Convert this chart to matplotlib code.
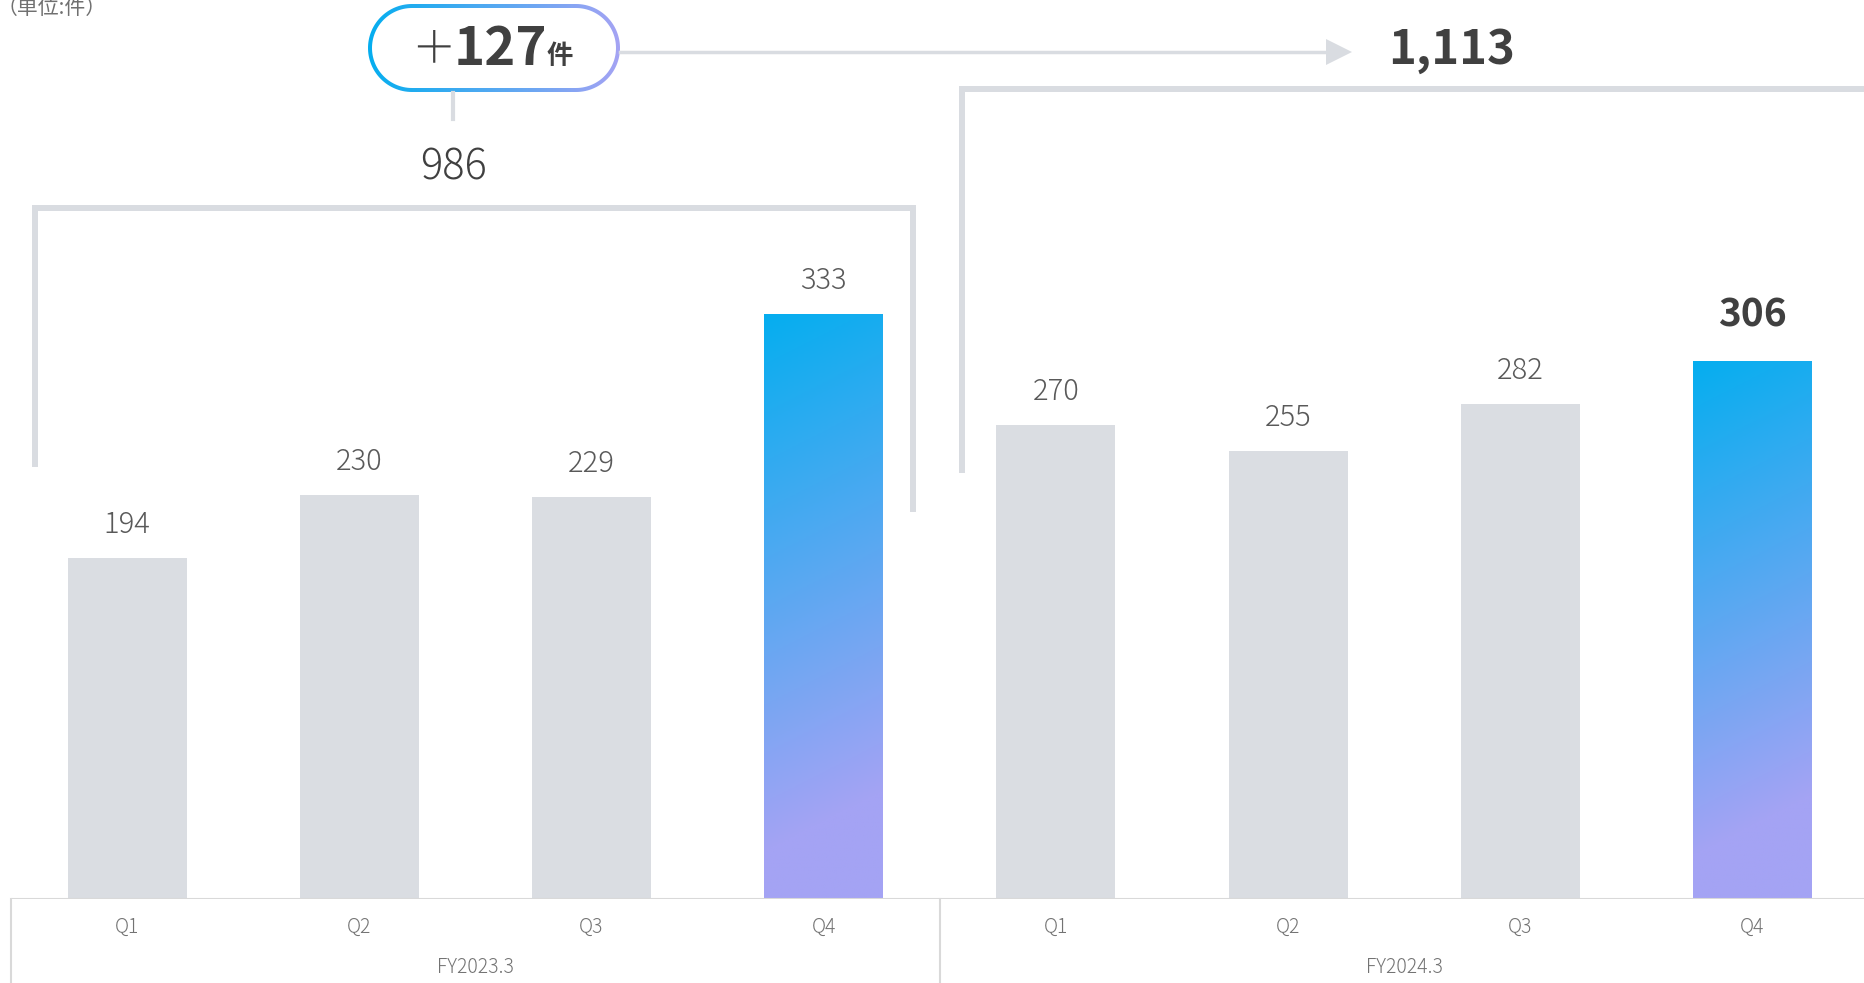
import numpy as np
import matplotlib.pyplot as plt
from matplotlib.colors import LinearSegmentedColormap
from matplotlib.patches import Polygon

plt.rcParams['font.family'] = ['Noto Sans CJK JP', 'DejaVu Sans']

# ==========================================================
# Data
# ==========================================================

quarters = ["Q1", "Q2", "Q3", "Q4"]
fiscal_years = ["FY2023.3", "FY2024.3"]
fy2023 = [194, 230, 229, 333]
fy2024 = [270, 255, 282, 306]
total_fy2023 = 986
total_fy2024 = 1113
unit_label = "（単位:件）"

# ==========================================================
# Style
# ==========================================================

GRAY_BAR = "#DADDE2"
LINE = "#D9DCE1"
TEXT = "#404040"
LABEL = "#595959"
grad = LinearSegmentedColormap.from_list("grad", ["#05AEEF", "#A4A3F4"])

W, H = 1865, 983
BASE = 899          # baseline, px from top
PX_PER_UNIT = 1.757
SLOT = 232.2        # px per category

fig = plt.figure(figsize=(W / 100, H / 100), dpi=100)
ax = fig.add_axes([11 / W, (H - BASE) / H, (W - 11) / W, BASE / H])
ax.set_xlim(-0.5, -0.5 + (W - 11) / SLOT)
ax.set_ylim(0, BASE / PX_PER_UNIT)
ax.axis("off")

values = fy2023 + fy2024
x = np.arange(len(values))
highlight = [3, 7]
colors = ["none" if i in highlight else GRAY_BAR for i in x]
bars = ax.bar(x, values, width=119 / SLOT, color=colors, zorder=2)


def gradient_bar(bar):
    x0, y0 = bar.get_x(), bar.get_y()
    w, h = bar.get_width(), bar.get_height()
    (px0, py0), (px1, py1) = ax.transData.transform([(x0, y0), (x0 + w, y0 + h)])
    wpx, hpx = abs(px1 - px0), abs(py1 - py0)
    u = np.linspace(0, 1, 60)[None, :] * wpx
    v = np.linspace(0, 1, 400)[:, None] * hpx
    t = np.clip((v + 0.5 * u) / (0.92 * hpx), 0, 1)
    im = ax.imshow(t, extent=[x0, x0 + w, y0, y0 + h], origin="upper",
                   cmap=grad, vmin=0, vmax=1, aspect="auto", zorder=3)
    im.set_clip_path(bar)


for i in highlight:
    gradient_bar(bars[i])

ax.set_xlim(-0.5, -0.5 + (W - 11) / SLOT)
ax.set_ylim(0, BASE / PX_PER_UNIT)

# value labels
for i, v in enumerate(values):
    if i == 7:
        ax.annotate(f"{v}", (i, v), xytext=(0, 25), textcoords="offset points",
                    ha="center", va="baseline", fontsize=28, fontweight="bold",
                    color=TEXT)
    else:
        ax.annotate(f"{v}", (i, v), xytext=(0, 18), textcoords="offset points",
                    ha="center", va="baseline", fontsize=21, fontweight="light",
                    color=LABEL)

# category axis
ax.axhline(0, color="#D9D9D9", lw=1.5, zorder=4)
bottom = -(H - BASE) / PX_PER_UNIT
for sep in [-0.5, 3.5]:
    ax.plot([sep, sep], [0, bottom], color="#D9D9D9", lw=1.5, clip_on=False)
for i in x:
    ax.text(i, -16, quarters[i % 4], ha="center", va="center", fontsize=14,
            color="#737373", fontweight="light")
for k, fy in enumerate(fiscal_years):
    ax.text(1.5 + 4 * k, -39, fy, ha="center", va="center", fontsize=14,
            color="#737373", fontweight="light")

# brackets
lw = 4.3
ax.plot([-0.396, -0.396, 3.385, 3.385], [247.6, 393.3, 393.3, 222],
        color=LINE, lw=lw, solid_joinstyle="miter", clip_on=False)
ax.plot([3.596, 3.596, 8.2], [244, 461, 461],
        color=LINE, lw=lw, solid_joinstyle="miter", clip_on=False)

# ==========================================================
# Header annotations (pixel coordinates)
# ==========================================================

ov = fig.add_axes([0, 0, 1, 1], zorder=5)
ov.patch.set_alpha(0)
ov.axis("off")


def stadium(x0, y0, w, h, **kw):
    r = h / 2
    a = np.linspace(-np.pi / 2, np.pi / 2, 60)
    right = np.column_stack([x0 + w - r + r * np.cos(a), y0 + r + r * np.sin(a)])
    left = np.column_stack([x0 + r - r * np.cos(a), y0 + r - r * np.sin(a)])
    return Polygon(np.vstack([right, left]), closed=True, **kw)


outer = stadium(368, 4, 252, 88, fc="none", ec="none")
ov.add_patch(outer)
pill = ov.imshow(np.linspace(0, 1, 200)[None, :], extent=[368, 620, 92, 4],
                 cmap=grad, vmin=0, vmax=1, aspect="auto", zorder=1)
pill.set_clip_path(outer)
ov.add_patch(stadium(372, 8, 244, 80, fc="white", ec="none", zorder=2))
ov.set_xlim(0, W)
ov.set_ylim(H, 0)

diff = total_fy2024 - total_fy2023
ov.text(433, 62, "＋", ha="center", va="baseline", fontsize=32,
        fontweight="light", color=TEXT, zorder=3)
ov.text(500, 65, f"{diff}", ha="center", va="baseline", fontsize=38,
        fontweight="bold", color=TEXT, zorder=3)
ov.text(560, 64, "件", ha="center", va="baseline", fontsize=19,
        fontweight="bold", color=TEXT, zorder=3)

# stem and total 986
ov.plot([453, 453], [93, 119], color=LINE, lw=3)
ov.text(454, 179, f"{total_fy2023:,}", ha="center", va="baseline", fontsize=30,
        fontweight="light", color=TEXT)

# arrow to 1,113
ov.plot([620, 1328], [52, 52], color=LINE, lw=2.5)
ov.add_patch(Polygon([[1326, 39], [1352, 52], [1326, 65]], closed=True,
                     fc=LINE, ec="none"))
ov.text(1452, 64, f"{total_fy2024:,}", ha="center", va="baseline", fontsize=34,
        fontweight="bold", color=TEXT)

ov.text(-3, 8, unit_label, ha="left", va="center", fontsize=15,
        color="#707070")

fig.savefig("out.png", dpi=100)
